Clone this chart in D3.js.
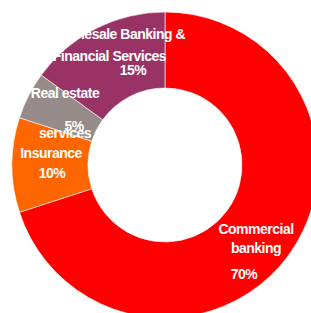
<!DOCTYPE html>
<html>
<head>
<meta charset="utf-8">
<script src="https://cdn.jsdelivr.net/npm/d3@7"></script>
<style>
  html, body { margin: 0; padding: 0; background: #fff; overflow: hidden; }
  svg { display: block; }
  .lbl { font-family: "Liberation Sans", Arial, sans-serif; font-weight: bold; font-size: 14px; fill: #fff; letter-spacing: -0.5px; }
</style>
</head>
<body>
<div id="chart"></div>
<script>
// données
const segments = ["Commercial banking", "Insurance", "Real estate services", "Wholesale Banking & Financial Services"];
const shares = [70, 10, 5, 15];
const pctLabels = ["70%", "10%", "5%", "15%"];
const colors = ["#ff0000", "#ff6600", "#968b88", "#993366"];

const width = 311;
const height = 313;
const cx = 165, cy = 165;
const outerR = 153, innerR = 77;

const svg = d3.select("#chart")
    .append("svg")
    .attr("width", width)
    .attr("height", height);

const g = svg.append("g").attr("transform", `translate(${cx},${cy})`);

const pie = d3.pie().sort(null).value(d => d);
const arc = d3.arc().innerRadius(innerR).outerRadius(outerR);

const arcs = pie(shares);

g.selectAll("path.slice")
    .data(arcs)
    .join("path")
    .attr("class", "slice")
    .attr("d", arc)
    .attr("fill", (d, i) => colors[i])
    .attr("stroke", "#fff")
    .attr("stroke-width", 0.6);

// étiquettes (placement à la main, relatif au centre, comme dans l'original)
const labelLayout = [
    { lines: [["Commercial", 91, 69], ["banking", 91, 88], [pctLabels[0], 79, 114]], anchor: "middle" },
    { lines: [["Insurance", -114, -7], [pctLabels[1], -113, 13]], anchor: "middle" },
    { lines: [["Real estate", -100, -67], [pctLabels[2], -91, -34], ["services", -100, -27]], anchor: "middle" },
    { lines: [["Wholesale Banking &", 20, -126], ["Financial Services", 1, -104]], anchor: "end" },
    { lines: [[pctLabels[3], -32, -90]], anchor: "middle" }
];

labelLayout.forEach(l => {
    l.lines.forEach(([txt, x, y]) => {
        g.append("text")
            .attr("class", "lbl")
            .attr("x", x)
            .attr("y", y)
            .attr("text-anchor", l.anchor)
            .text(txt);
    });
});
</script>
</body>
</html>
